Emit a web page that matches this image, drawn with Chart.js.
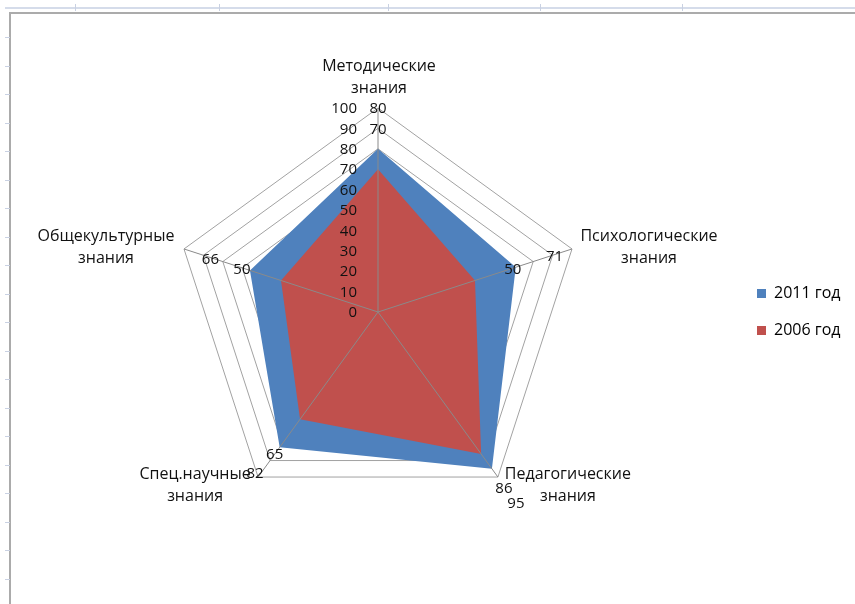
<!DOCTYPE html>
<html lang="ru">
<head>
<meta charset="utf-8">
<title>Знания 2006 / 2011</title>
<script src="https://cdn.jsdelivr.net/npm/chart.js@4.4.1/dist/chart.umd.min.js"></script>
<style>
  html, body { margin: 0; padding: 0; background: #fff; }
  #page { position: relative; width: 855px; height: 604px; overflow: hidden; background: #fff; }
  #chart { position: absolute; left: 0; top: 0; }
  /* линейки документа вокруг диаграммы */
  .ruler-h { position: absolute; left: 5px; right: 0; top: 7px; height: 2px; background: #d5dcea; }
  .tick-h { position: absolute; top: 4px; width: 1px; height: 7px; background: #c9d1e2; }
  .tick-v { position: absolute; left: 5px; width: 5px; height: 1px; background: #c9d1e2; }
  .frame { position: absolute; left: 9px; top: 12px; right: -10px; bottom: -10px; border-left: 2px solid #ababab; border-top: 2px solid #ababab; }
</style>
</head>
<body>
<div id="page">
  <div class="ruler-h"></div>
  <div class="frame"></div>
  <canvas id="chart" width="855" height="604"></canvas>
</div>
<script>
// Данные диаграммы
const categories = [
    ["Методические", "знания"],
    ["Психологические", "знания"],
    ["Педагогические", "знания"],
    ["Спец.научные", "знания"],
    ["Общекультурные", "знания"]
];
const seriesNames = ["2011 год", "2006 год"];
const values2011 = [80, 71, 95, 82, 66];
const values2006 = [70, 50, 86, 65, 50];
const scaleMin = 0;
const scaleMax = 100;
const scaleStep = 10;

// Оформление
const FONT = "'Open Sans', sans-serif";
const TEXT_SIZE = 16;   // названия осей и легенда
const TICK_SIZE = 15;   // деления шкалы
const VALUE_SIZE = 15;  // подписи значений
const colors = ["#4f81bd", "#c0504d"];

// Где стоят подписи значений: [кольцо на своей оси, сдвиг x, сдвиг y]
const labelSpots = [
    [[100, 0, 1], [90, 2, 1], [100, 18, 27], [100, -3, -3], [90, 7, 4]],
    [[90, 0, 1], [71, -3, 2], [100, 6, 12], [82, -5, 7], [66, -8, -1]]
];
// Сдвиг названий осей от внешней вершины (центр текста, базовая линия первой строки)
const titleSpots = [[1, -37], [77, -8], [70, 2], [-63, 2], [-78, -8]];

// Засечки на линейках страницы
const page = document.getElementById("page");
[75, 219, 388, 540, 682].forEach(x => {
    const t = document.createElement("div");
    t.className = "tick-h";
    t.style.left = x + "px";
    page.appendChild(t);
});
for (let y = 37; y < 604; y += 28.5) {
    const t = document.createElement("div");
    t.className = "tick-v";
    t.style.top = Math.round(y) + "px";
    page.appendChild(t);
}

// Легенда должна начинаться на x = 757: считаем правый отступ по ширине текста
const legendPad = 21, legendBox = 9;
const measureCtx = document.createElement("canvas").getContext("2d");
measureCtx.font = TEXT_SIZE + "px " + FONT;
const legendTextW = Math.max(...seriesNames.map(s => measureCtx.measureText(s).width));
const legendW = legendPad + legendBox + TEXT_SIZE / 2 + legendTextW + 10;
const rightPad = Math.max(0, 855 - (757 - legendPad) - legendW);

// Подписи делений слева от верхней оси
const tickLabelsPlugin = {
    id: "tickLabels",
    afterDatasetsDraw(chart) {
        const scale = chart.scales.r;
        const ctx = chart.ctx;
        ctx.save();
        ctx.font = TICK_SIZE + "px " + FONT;
        ctx.fillStyle = "#111";
        ctx.textAlign = "right";
        ctx.textBaseline = "middle";
        scale.ticks.forEach(t => {
            const p = scale.getPointPositionForValue(0, t.value);
            ctx.fillText(String(t.value), p.x - 21, p.y + 1);
        });
        ctx.restore();
    }
};

// Оси-лучи поверх заливки
const spokesPlugin = {
    id: "spokes",
    afterDatasetsDraw(chart) {
        const scale = chart.scales.r;
        const ctx = chart.ctx;
        ctx.save();
        ctx.strokeStyle = "#8a8a8a";
        ctx.lineWidth = 1;
        categories.forEach((c, i) => {
            const p = scale.getPointPositionForValue(i, scaleMax);
            ctx.beginPath();
            ctx.moveTo(scale.xCenter, scale.yCenter);
            ctx.lineTo(p.x, p.y);
            ctx.stroke();
        });
        ctx.restore();
    }
};

// Названия осей и подписи значений
const textPlugin = {
    id: "texts",
    afterDraw(chart) {
        const scale = chart.scales.r;
        const ctx = chart.ctx;
        ctx.save();
        ctx.font = TEXT_SIZE + "px " + FONT;
        ctx.fillStyle = "#111";
        ctx.textAlign = "center";
        ctx.textBaseline = "alphabetic";
        categories.forEach((lines, i) => {
            const p = scale.getPointPositionForValue(i, scaleMax);
            lines.forEach((line, k) => {
                ctx.fillText(line, p.x + titleSpots[i][0], p.y + titleSpots[i][1] + k * 22);
            });
        });
        ctx.font = VALUE_SIZE + "px " + FONT;
        ctx.textBaseline = "middle";
        chart.data.datasets.forEach((ds, d) => {
            ds.data.forEach((v, i) => {
                const [ring, dx, dy] = labelSpots[d][i];
                const p = scale.getPointPositionForValue(i, ring);
                ctx.fillText(String(v), p.x + dx, p.y + dy);
            });
        });
        ctx.restore();
    }
};

const chart = new Chart(document.getElementById("chart"), {
    type: "radar",
    data: {
        labels: categories,
        datasets: [
            {
                label: seriesNames[0],
                data: values2011,
                backgroundColor: colors[0],
                borderColor: colors[0],
                borderWidth: 0,
                pointRadius: 0,
                fill: true,
                order: 2
            },
            {
                label: seriesNames[1],
                data: values2006,
                backgroundColor: colors[1],
                borderColor: colors[1],
                borderWidth: 0,
                pointRadius: 0,
                fill: true,
                order: 1
            }
        ]
    },
    options: {
        responsive: false,
        animation: false,
        layout: { padding: { left: 20, top: 108, bottom: 88, right: rightPad } },
        elements: { line: { tension: 0 } },
        scales: {
            r: {
                min: scaleMin,
                max: scaleMax,
                ticks: { stepSize: scaleStep, display: false },
                pointLabels: { display: false },
                angleLines: { display: false },
                grid: { color: "#a2a2a2", lineWidth: 1 }
            }
        },
        plugins: {
            legend: {
                position: "right",
                labels: {
                    font: { family: FONT, size: TEXT_SIZE },
                    color: "#111",
                    boxWidth: legendBox,
                    boxHeight: legendBox,
                    padding: legendPad,
                    generateLabels: (ch) => ch.data.datasets.map((ds, i) => ({
                        text: ds.label,
                        fillStyle: ds.backgroundColor,
                        strokeStyle: ds.backgroundColor,
                        lineWidth: 0,
                        hidden: false,
                        datasetIndex: i
                    }))
                }
            },
            tooltip: { enabled: false }
        }
    },
    plugins: [spokesPlugin, tickLabelsPlugin, textPlugin]
});
</script>
</body>
</html>
